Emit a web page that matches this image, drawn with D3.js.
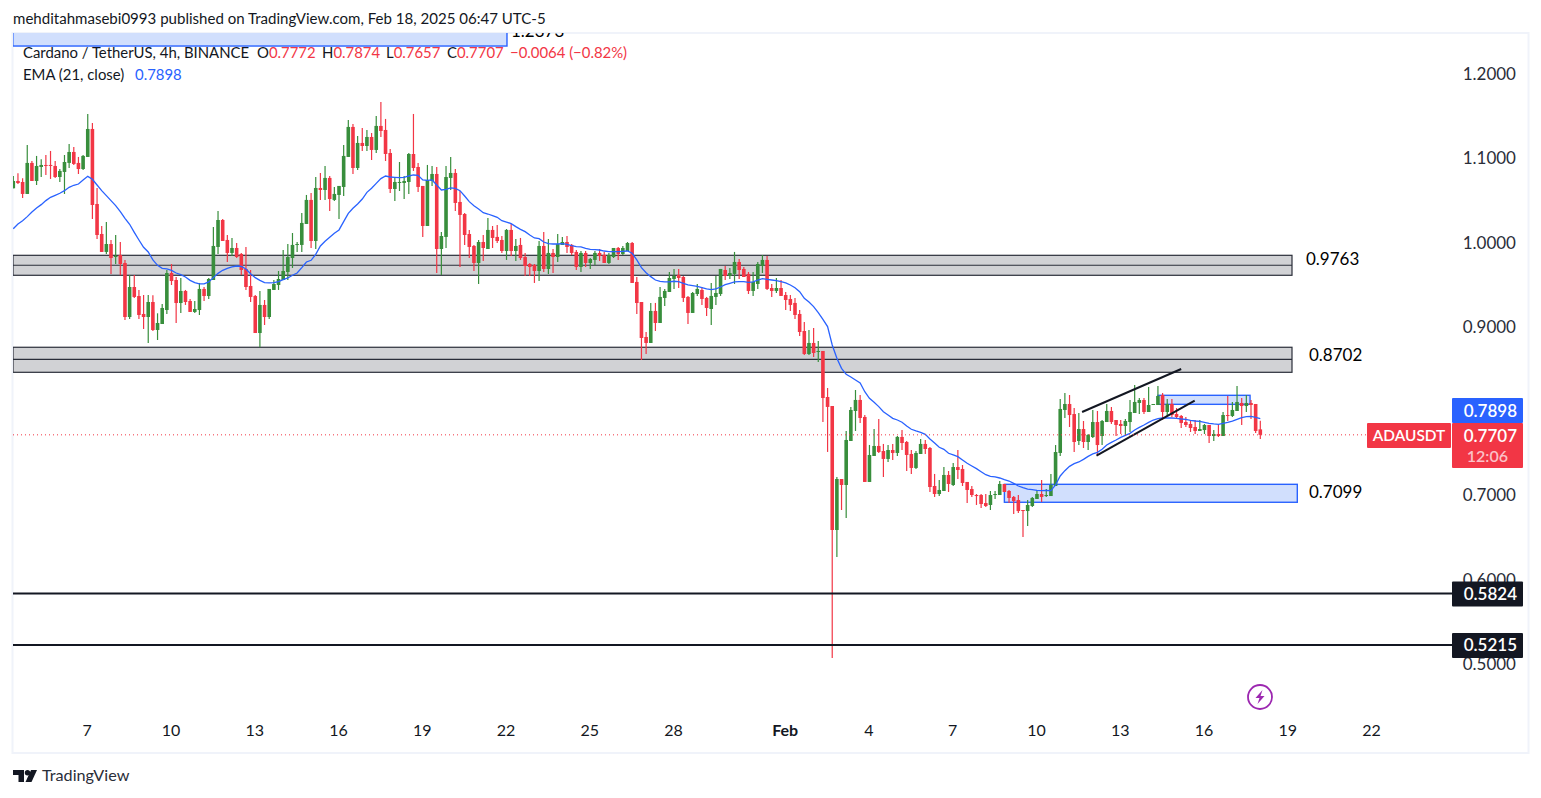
<!DOCTYPE html>
<html><head><meta charset="utf-8">
<script src="https://cdn.jsdelivr.net/npm/d3@7/dist/d3.min.js"></script>
<style>
html,body{margin:0;padding:0;background:#fff;overflow:hidden}
svg{display:block}
text{font-family:"Lato","Noto Sans",sans-serif;fill:#131722}
</style></head><body><svg id="c" width="1541" height="798"></svg>
<script>
const opens=[1.0632,1.0719,1.0707,1.0565,1.0933,1.0719,1.0885,1.0909,1.0909,1.0897,1.0766,1.0826,1.0933,1.1063,1.0933,1.0861,1.1004,1.1336,1.0446,1.0090,.9877,.9971,.9817,.9841,.9746,.9105,.9461,.9354,.9141,.9105,.9283,.8951,.9022,.9188,.9627,.9544,.9271,.9414,.9295,.9165,.9188,.9438,.9354,.9544,.9936,1.0256,1.0019,.9865,.9924,.9853,.9675,.9473,.9354,.8915,.9248,.9105,.9426,.9485,.9544,.9639,.9805,.9960,.9960,1.0209,1.0494,1.0007,1.0636,1.0612,1.0755,1.0494,1.0553,1.0648,1.1004,1.1360,1.0873,1.1170,1.1134,1.1241,1.1087,1.1372,1.1324,1.1051,1.0624,1.0699,1.0695,1.0707,1.1039,1.0885,1.0660,1.0185,1.0719,1.0802,.9912,1.0055,1.0755,1.0814,1.0470,1.0327,1.0090,.9948,.9746,.9995,.9912,1.0138,1.0055,1.0019,.9888,1.0138,.9888,.9960,.9817,.9734,.9722,.9651,.9948,.9675,.9865,.9817,.9960,.9995,.9960,.9877,.9699,.9865,.9746,.9782,.9865,.9841,.9746,.9817,.9924,.9853,.9888,.9983,.9521,.9283,.8868,.8797,.9177,.9034,.9331,.9402,.9556,.9604,.9580,.9343,.9153,.9378,.9426,.9331,.9200,.9343,.9378,.9663,.9592,.9616,.9758,.9675,.9616,.9414,.9497,.9711,.9782,.9449,.9414,.9449,.9366,.9319,.9272,.9141,.8939,.8666,.8797,.8690,.8702,.8156,.8049,.6578,.7183,.7112,.7634,.7990,.8121,.7919,.7148,.7456,.7575,.7515,.7421,.7527,.7492,.7682,.7622,.7480,.7314,.7480,.7599,.7551,.7100,.7005,.7041,.7231,.7112,.7325,.7302,.7148,.7064,.6993,.6993,.6898,.6875,.6993,.6993,.7124,.7041,.6970,.6934,.6815,.6803,.6863,.6946,.7005,.6981,.6981,.7100,.7492,.8002,.8073,.7954,.7634,.7776,.7622,.7681,.7859,.7693,.7859,.7990,.7883,.7836,.7812,.7859,.7966,.8085,.8120,.7978,.8061,.8061,.8180,.7978,.8073,.7954,.7931,.7859,.7836,.7800,.7753,.7764,.7824,.7693,.7717,.7693,.7942,.7931,.7990,.8085,.8049,.8085,.8073,.7772];
const highs=[1.0778,1.0810,1.0751,1.1146,1.0956,1.1016,1.0976,1.1027,1.1075,1.0956,1.0861,1.1027,1.1158,1.1122,1.1004,1.1027,1.1514,1.1407,1.0636,1.0185,1.0232,1.0019,1.0078,.9995,.9782,.9604,.9604,.9426,.9366,.9366,.9362,.9149,.9260,.9663,.9734,.9580,.9568,.9426,.9319,.9295,.9509,.9461,.9568,1.0173,1.0363,1.0268,1.0078,1.0043,.9983,.9865,.9936,.9663,.9366,.9414,.9307,.9438,.9544,.9651,.9900,.9971,1.0102,.9995,1.0339,1.0553,1.0577,1.0766,1.0814,1.0897,1.0778,1.0648,1.0660,1.1146,1.1443,1.1395,1.1253,1.1348,1.1324,1.1288,1.1490,1.1656,1.1455,1.1099,1.0755,1.0944,1.0778,1.1051,1.1514,1.0933,1.0660,1.0909,1.0897,1.0885,1.0114,1.0897,1.1004,1.0861,1.0600,1.0339,1.0138,.9960,1.0019,1.0078,1.0280,1.0185,1.0197,1.0066,1.0149,1.0209,1.0031,1.0043,.9865,.9746,.9734,1.0007,1.0114,1.0031,.9912,1.0090,1.0055,1.0066,.9971,.9900,.9888,.9888,.9805,.9888,.9912,.9877,.9865,.9924,.9936,.9948,.9995,.9995,.9580,.9283,.8927,.9272,.9272,.9461,.9438,.9639,.9675,.9675,.9592,.9355,.9402,.9497,.9461,.9343,.9509,.9592,.9675,.9711,.9687,.9877,.9794,.9699,.9639,.9639,.9758,.9841,.9829,.9497,.9568,.9544,.9402,.9366,.9331,.9188,.9046,.8951,.8975,.8821,.8702,.8263,.8049,.7207,.7183,.7753,.8038,.8239,.8180,.7943,.7587,.7777,.7895,.7599,.7587,.7599,.7693,.7765,.7634,.7527,.7515,.7658,.7646,.7563,.7243,.7171,.7326,.7278,.7373,.7527,.7349,.7148,.7100,.7005,.7005,.7005,.7041,.7041,.7159,.7124,.7053,.6981,.6993,.6815,.6934,.6970,.7053,.7171,.7064,.7242,.7586,.8132,.8203,.8180,.8025,.7966,.7871,.7717,.8002,.7990,.7883,.8073,.8037,.7883,.7883,.7895,.8120,.8298,.8144,.8144,.8275,.8073,.8287,.8203,.8132,.8132,.8025,.7942,.7919,.7883,.7883,.7883,.7836,.7824,.7764,.7824,.7978,.8168,.8097,.8287,.8144,.8180,.8120,.8073,.7874];
const lows=[1.0632,1.0683,1.0517,1.0565,1.0719,1.0671,1.0766,1.0790,1.0743,1.0755,1.0707,1.0565,1.0873,1.0909,1.0802,1.0849,1.1004,1.0268,1.0031,.9877,.9853,.9615,.9734,.9600,.9070,.9082,.9331,.9082,.8963,.8797,.8939,.8832,.9022,.9141,.9485,.9034,.9153,.9248,.9165,.9153,.9129,.9295,.9319,.9544,.9853,1.0007,.9758,.9829,.9805,.9604,.9426,.9283,.8915,.8745,.9010,.9082,.9426,.9426,.9544,.9544,.9687,.9877,.9877,1.0209,.9924,.9912,1.0494,1.0494,1.0363,1.0482,1.0268,1.0541,1.1004,1.0802,1.0849,1.1075,1.1075,1.0968,1.1051,1.1241,1.0956,1.0577,1.0482,1.0600,1.0505,1.0565,1.0838,1.0588,1.0055,1.0185,1.0660,.9627,.9604,.9924,1.0612,1.0363,.9699,.9960,.9805,.9651,.9497,.9770,.9912,.9924,.9983,.9865,.9782,.9829,.9770,.9782,.9592,.9592,.9509,.9532,.9639,.9615,.9627,.9758,.9960,.9865,.9841,.9663,.9639,.9699,.9675,.9722,.9770,.9746,.9734,.9805,.9782,.9841,.9888,.9509,.9141,.8595,.8666,.8797,.8939,.9034,.9236,.9402,.9438,.9449,.9283,.9022,.9153,.9355,.9248,.9117,.9010,.9248,.9355,.9544,.9556,.9497,.9556,.9580,.9378,.9355,.9438,.9627,.9426,.9343,.9390,.9355,.9188,.9177,.9082,.8880,.8655,.8655,.8631,.8571,.7860,.7504,.5059,.6258,.6815,.6721,.7634,.7753,.7848,.7148,.7148,.7456,.7492,.7207,.7385,.7409,.7456,.7527,.7278,.7243,.7302,.7480,.7480,.7029,.6970,.6982,.7041,.7029,.7100,.7183,.7100,.6898,.6970,.6875,.6839,.6851,.6815,.6946,.6993,.7029,.6898,.6768,.6780,.6495,.6625,.6851,.6946,.6910,.6970,.6981,.7100,.7456,.7907,.7800,.7503,.7586,.7551,.7527,.7670,.7456,.7586,.7859,.7836,.7693,.7717,.7693,.7741,.7966,.7954,.7954,.7978,.8061,.8061,.7883,.7931,.7919,.7895,.7788,.7800,.7741,.7717,.7753,.7717,.7610,.7634,.7681,.7693,.7871,.7919,.7990,.7824,.7978,.7895,.7729,.7657];
const closes=[1.0719,1.0695,1.0565,1.0933,1.0719,1.0897,1.0909,1.0897,1.0897,1.0766,1.0838,1.0944,1.1063,1.0921,1.0861,1.1016,1.1336,1.0434,1.0078,.9877,.9971,.9805,.9829,.9734,.9105,.9461,.9343,.9129,.9105,.9283,.8951,.9034,.9212,.9627,.9532,.9271,.9414,.9283,.9165,.9200,.9438,.9354,.9556,.9948,1.0256,1.0007,.9865,.9924,.9817,.9663,.9461,.9343,.8915,.9248,.9105,.9438,.9497,.9556,.9651,.9817,.9960,.9971,1.0221,1.0494,1.0007,1.0636,1.0612,1.0755,1.0505,1.0565,1.0660,1.1016,1.1360,1.0873,1.1170,1.1134,1.1241,1.1087,1.1372,1.1312,1.1039,1.0624,1.0707,1.0707,1.0719,1.1039,1.0873,1.0648,1.0185,1.0731,1.0802,.9912,1.0066,1.0766,1.0814,1.0458,1.0316,1.0078,.9936,.9746,.9995,.9924,1.0138,1.0043,1.0007,.9888,1.0138,.9888,.9948,.9805,.9710,.9699,.9651,.9948,.9675,.9865,.9817,.9971,.9995,.9936,.9865,.9699,.9865,.9746,.9793,.9865,.9829,.9746,.9841,.9924,.9853,.9924,.9983,.9509,.9271,.8856,.8797,.9177,.9034,.9343,.9414,.9568,.9592,.9568,.9331,.9153,.9390,.9438,.9319,.9212,.9355,.9390,.9675,.9592,.9627,.9758,.9663,.9580,.9414,.9521,.9734,.9782,.9438,.9414,.9449,.9355,.9307,.9248,.9129,.8927,.8666,.8797,.8678,.8702,.8144,.8038,.6578,.7183,.7112,.7646,.8002,.8121,.7907,.7148,.7468,.7575,.7504,.7421,.7527,.7492,.7682,.7610,.7468,.7314,.7492,.7599,.7539,.7088,.7005,.7053,.7231,.7124,.7325,.7290,.7136,.7053,.6993,.6981,.6886,.6863,.6993,.7005,.7124,.7029,.6958,.6922,.6803,.6803,.6875,.6958,.7005,.6970,.6993,.7112,.7503,.8014,.8073,.7942,.7622,.7776,.7622,.7705,.7859,.7586,.7871,.7990,.7859,.7824,.7812,.7871,.7978,.8097,.8120,.7978,.8061,.8073,.8168,.7978,.8073,.7942,.7919,.7848,.7824,.7788,.7753,.7776,.7824,.7693,.7717,.7693,.7942,.7931,.8002,.8097,.8049,.8085,.8061,.7753,.7707];
const ema21=[1.0153,1.0209,1.0248,1.0296,1.0351,1.0399,1.0438,1.0486,1.0525,1.0549,1.0573,1.0604,1.0644,1.0668,1.0683,1.0731,1.0774,1.0739,1.0671,1.0604,1.0545,1.0486,1.0426,1.0355,1.0276,1.0205,1.0110,1.0019,.9932,.9877,.9782,.9718,.9683,.9675,.9659,.9627,.9608,.9580,.9540,.9513,.9497,.9497,.9521,.9572,.9623,.9659,.9683,.9699,.9710,.9706,.9675,.9619,.9572,.9540,.9513,.9509,.9513,.9525,.9548,.9568,.9600,.9627,.9691,.9758,.9778,.9849,.9948,1.0003,1.0051,1.0098,1.0138,1.0236,1.0335,1.0395,1.0446,1.0505,1.0584,1.0632,1.0691,1.0747,1.0778,1.0766,1.0762,1.0758,1.0762,1.0778,1.0790,1.0786,1.0731,1.0727,1.0731,1.0671,1.0612,1.0620,1.0636,1.0632,1.0604,1.0541,1.0474,1.0426,1.0387,1.0343,1.0327,1.0308,1.0288,1.0248,1.0232,1.0213,1.0177,1.0145,1.0118,1.0078,1.0043,1.0035,.9995,.9975,.9971,.9971,.9975,.9967,.9952,.9940,.9936,.9920,.9908,.9904,.9900,.9888,.9880,.9880,.9880,.9884,.9888,.9861,.9782,.9691,.9631,.9584,.9544,.9529,.9521,.9521,.9529,.9525,.9505,.9485,.9477,.9469,.9453,.9438,.9430,.9438,.9461,.9489,.9505,.9521,.9525,.9525,.9517,.9521,.9544,.9560,.9552,.9544,.9536,.9525,.9509,.9485,.9453,.9406,.9327,.9283,.9228,.9157,.9078,.8991,.8773,.8615,.8496,.8425,.8393,.8358,.8322,.8219,.8140,.8093,.8042,.7982,.7943,.7903,.7883,.7856,.7812,.7773,.7753,.7737,.7713,.7658,.7610,.7559,.7535,.7488,.7468,.7448,.7408,.7369,.7337,.7306,.7270,.7234,.7215,.7207,.7195,.7175,.7159,.7132,.7100,.7080,.7064,.7057,.7049,.7045,.7049,.7045,.7112,.7219,.7282,.7333,.7365,.7385,.7416,.7452,.7480,.7499,.7535,.7586,.7618,.7646,.7677,.7701,.7725,.7764,.7796,.7824,.7855,.7883,.7899,.7907,.7907,.7907,.7903,.7895,.7891,.7879,.7871,.7867,.7855,.7844,.7836,.7832,.7844,.7855,.7871,.7891,.7911,.7923,.7927,.7915,.7898];

const priceTicks=[1.2,1.1,1.0,0.9,0.8,0.7,0.6,0.5];
const dateTickIndex=[16,34,52,70,88,106,124,142,166,184,202,220,238,256,274,292];
const dateTickLabels=["7","10","13","16","19","22","25","28","Feb","4","7","10","13","16","19","22"];
const greyZones=[{hi:.9837,mid:.9719,lo:.9600,label:"0.9763"},{hi:.8746,mid:.8603,lo:.8449,label:"0.8702"}];
const blueBoxes=[{i0:-0.1,i1:106.1,hi:1.2700,lo:1.2320},{i0:213.0,i1:276.0,hi:.7120,lo:.6907},{i0:246.0,i1:265.8,hi:.8176,lo:.8069}];
const trendLines=[[{i:229.7,p:.7978},{i:251.0,p:.8488}],[{i:232.8,p:.7460},{i:253.9,p:.8112}]];
const hLevels=[.5824,.5215];

const font='"Lato","Noto Sans",sans-serif';
const paneL=13,paneR=1528,paneT=33,paneB=753;
const x=d3.scaleLinear().domain([0,268]).range([13.3,1260.3]);
const y=d3.scaleLinear().domain([1.2,0.5]).range([73,663]);
const svg=d3.select("#c");
const defs=svg.append("defs");
defs.append("clipPath").attr("id","pane").append("rect").attr("x",paneL).attr("y",paneT).attr("width",paneR-paneL).attr("height",paneB-paneT);

// frame
svg.append("rect").attr("x",paneL-0.5).attr("y",paneT).attr("width",paneR-paneL+1).attr("height",paneB-paneT)
  .attr("fill","#fff").attr("stroke","#f0f3fa").attr("stroke-width",2);
svg.append("text").attr("x",13).attr("y",24).attr("font-size",15.05).text("mehditahmasebi0993 published on TradingView.com, Feb 18, 2025 06:47 UTC-5");

const pane=svg.append("g").attr("clip-path","url(#pane)");

// grey zones
greyZones.forEach(z=>{
  pane.append("rect").attr("x",paneL).attr("y",y(z.hi)).attr("width",1292-paneL).attr("height",y(z.lo)-y(z.hi))
    .attr("fill","#d1d2d5").attr("stroke","#2a2e39").attr("stroke-width",1.2);
  pane.append("line").attr("x1",paneL).attr("x2",1292).attr("y1",y(z.mid)).attr("y2",y(z.mid)).attr("stroke","#2a2e39").attr("stroke-width",1.2);
});
// blue boxes
blueBoxes.forEach((b,k)=>{
  const xr=k==1?1297.3:x(b.i1);
  pane.append("rect").attr("x",x(b.i0)).attr("y",y(b.hi)).attr("width",xr-x(b.i0)).attr("height",y(b.lo)-y(b.hi))
    .attr("fill","#d1dffd").attr("stroke","#2962ff").attr("stroke-width",1.4);
});
pane.append("text").attr("x",511).attr("y",37).attr("font-size",17).style("fill","#000").text("1.2373");

// candles
const candles=opens.map((o,i)=>({i,o,h:highs[i],l:lows[i],c:closes[i]}));
const col=d=>d.c>=d.o?"#388e3c":"#f23645";
const g=pane.append("g");
g.selectAll("line.w").data(candles).join("line").attr("class","w")
  .attr("x1",d=>x(d.i)).attr("x2",d=>x(d.i))
  .attr("y1",d=>y(d.h)).attr("y2",d=>y(d.l)).attr("stroke",col).attr("stroke-width",1.2);
g.selectAll("rect.b").data(candles).join("rect").attr("class","b")
  .attr("x",d=>x(d.i)-1.8).attr("width",3.6)
  .attr("y",d=>Math.min(y(d.o),y(d.c))).attr("height",d=>Math.max(1,Math.abs(y(d.o)-y(d.c))))
  .attr("fill",col);

// EMA
pane.append("path").datum(ema21).attr("fill","none").attr("stroke","#2962ff").attr("stroke-width",1.3)
  .attr("d",d3.line().x((d,i)=>x(i)).y(d=>y(d)));

// trend lines
trendLines.forEach(t=>pane.append("line").attr("x1",x(t[0].i)).attr("y1",y(t[0].p)).attr("x2",x(t[1].i)).attr("y2",y(t[1].p))
  .attr("stroke","#131722").attr("stroke-width",2));

// last price line
pane.append("line").attr("x1",paneL).attr("x2",1367).attr("y1",y(closes[268])).attr("y2",y(closes[268]))
  .attr("stroke","#f23645").attr("stroke-width",1).attr("stroke-dasharray","1 3");

// horizontal levels
hLevels.forEach(v=>pane.append("line").attr("x1",paneL).attr("x2",1452).attr("y1",y(v)).attr("y2",y(v)).attr("stroke","#131722").attr("stroke-width",2));

// axes
const yAxis=d3.axisRight(y).tickValues(priceTicks).tickFormat(d3.format(".4f")).tickSize(0).tickPadding(0);
const ya=svg.append("g").attr("transform","translate(1516,1)").call(yAxis);
ya.select(".domain").remove();
ya.selectAll("text").attr("x",0).attr("text-anchor","end").attr("font-size",17).attr("font-family",font).style("fill","#2a2e39");
const xAxis=d3.axisBottom(x).tickValues(dateTickIndex).tickFormat((d,i)=>dateTickLabels[i]).tickSize(0).tickPadding(0);
const xa=svg.append("g").attr("transform","translate(-1,724.5)").call(xAxis);
xa.select(".domain").remove();
xa.selectAll("text").attr("font-size",16).attr("font-family",font).attr("dy","0.71em").style("fill","#131722")
  .attr("font-weight",(d,i)=>dateTickLabels[i]==="Feb"?700:400);

// legend
function legend(py,parts){
  const t=svg.append("text").attr("y",py).attr("font-size",14.9).style("white-space","pre");
  parts.forEach(p=>{const s=t.append("tspan").style("fill",p[1]).text(p[0]);if(p[2]!=null)s.attr("x",p[2]);});
  return t;
}
const red="#f23645";const ink="#131722";
legend(58,[["Cardano / TetherUS, 4h, BINANCE",ink,23],["O",ink,257],["0.7772",red],["H",ink,322],["0.7874",red],["L",ink,386],["0.7657",red],["C",ink,447],["0.7707",red],["−0.0064 (−0.82%)",red,510]]);
legend(80,[["EMA (21, close)",ink,23],["0.7898","#2962ff",135]]);

// zone labels
[[1306,259,greyZones[0].label],[1309,355,greyZones[1].label],[1309,492,"0.7099"]].forEach(l=>
  svg.append("text").attr("x",l[0]).attr("y",l[1]).attr("dy","0.36em").attr("font-size",17).style("fill","#000").text(l[2]));

// price labels
function tag(x0,x1,y0,y1,fill,lines){
  svg.append("rect").attr("x",x0).attr("y",y0).attr("width",x1-x0).attr("height",y1-y0).attr("rx",1).attr("fill",fill);
  lines.forEach(l=>svg.append("text").attr("x",l.x).attr("y",l.y).attr("dy","0.36em").attr("text-anchor",l.a||"end")
    .attr("font-size",l.s||17).attr("font-weight",l.w||600).style("fill",l.c||"#fff").text(l.t));
}
tag(1452,1523,398,423,"#2962ff",[{x:1517,y:410.5,t:d3.format(".4f")(ema21[268])}]);
tag(1452,1523,423,468,red,[{x:1517,y:435.5,t:d3.format(".4f")(closes[268])},{x:1508,y:456,t:"12:06",c:"#fbc1c7",s:16}]);
tag(1367,1451,423,448,red,[{x:1409,y:435.5,t:"ADAUSDT",a:"middle",s:15.4}]);
hLevels.forEach(v=>{const c=y(v);tag(1452,1523,c-12,c+13,"#131722",[{x:1517,y:c+0.5,t:d3.format(".4f")(v)}]);});

// lightning marker
const mk=svg.append("g").attr("transform","translate(1260,697)");
mk.append("circle").attr("r",12).attr("fill","#fff").attr("stroke","#9c27b0").attr("stroke-width",1.8);
mk.append("path").attr("d","M2.5,-7 L-4.5,1 L-0.5,1 L-2.5,7 L4.5,-1 L0.5,-1 Z").attr("fill","#9c27b0");

// logo
const logo=svg.append("g").attr("transform","translate(13,770)").attr("fill","#131722");
logo.append("path").attr("d","M0,0 H11 V12 H5.5 V5 H0 Z");
logo.append("circle").attr("cx",14.5).attr("cy",2.7).attr("r",2.7);
logo.append("path").attr("d","M18,0 H24 L18.5,12 H12.5 Z");
svg.append("text").attr("x",42).attr("y",781).attr("font-size",16.2).style("fill","#2a2e39").text("TradingView");
</script></body></html>
